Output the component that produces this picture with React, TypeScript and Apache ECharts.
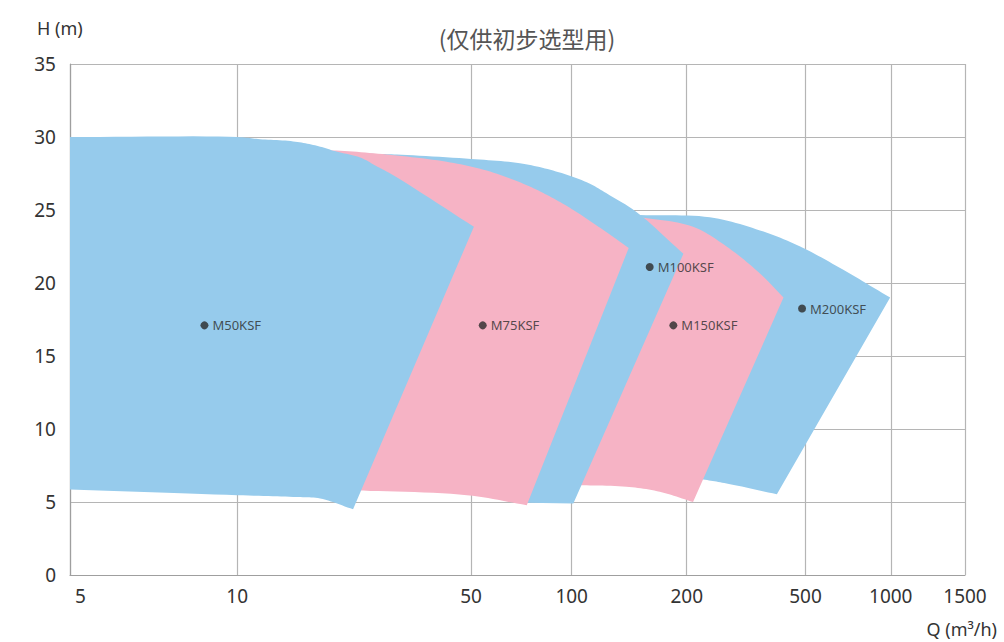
import React, { useEffect, useRef } from "react";
import * as echarts from "echarts";

// ---- axes ----
const qTicks = [5, 10, 50, 100, 200, 500, 1000, 1500];
// position of every tick along the axis, in decades, as spaced on the original drawing
const qTickPos = [0.5, 1, 1.699, 2, 2.344, 2.699, 2.954, 3.176];
const hMin = 0;
const hMax = 35;
const hStep = 5;

// ---- operating ranges (Q in m3/h, H in m): upper edge left->right, lower edge right->left ----
const m50TopQ = [5, 10, 11.7, 14.7, 17.3, 19.8, 23.3, 26.1, 29.2, 51];
const m50TopH = [30, 30, 29.85, 29.7, 29.4, 29.0, 28.6, 28.0, 27.4, 23.85];
const m50BotQ = [22.2, 17.7, 14.7, 10, 5];
const m50BotH = [4.5, 5.24, 5.35, 5.47, 5.86];

const m75TopQ = [15, 19.8, 28, 42.3, 55.7, 73.4, 88.1, 101, 121, 141];
const m75TopH = [29.1, 29.07, 28.8, 28.3, 27.7, 26.7, 25.8, 25.0, 23.63, 22.4];
const m75BotQ = [73.4, 48.6, 23.8, 17];
const m75BotH = [4.78, 5.47, 5.78, 5.9];

const m100TopQ = [25, 30, 50, 70, 88, 109.5, 126, 148, 196];
const m100TopH = [28.85, 28.8, 28.5, 28.2, 27.7, 26.9, 26.0, 24.85, 22.0];
const m100BotQ = [101, 73.4];
const m100BotH = [4.9, 4.95];

const m150TopQ = [134, 156, 210, 272, 352, 422];
const m150TopH = [24.6, 24.45, 23.85, 22.5, 20.65, 19.0];
const m150BotQ = [210, 170, 139, 105, 92.3];
const m150BotH = [5.0, 5.7, 6.05, 6.15, 6.2];

const m200TopQ = [151, 239, 352, 480, 680, 995];
const m200TopH = [24.65, 24.5, 23.6, 22.5, 20.9, 19.0];
const m200BotQ = [401, 272, 227, 181, 160];
const m200BotH = [5.53, 6.27, 6.54, 6.8, 6.9];

// ---- model markers ----
const modelNames = ["M50KSF", "M75KSF", "M100KSF", "M150KSF", "M200KSF"];
const modelQ = [8.73, 54.2, 160, 184.5, 487];
const modelH = [17.1, 17.1, 21.1, 17.1, 18.25];

const BLUE = "#96cbec";
const PINK = "#f6b3c5";
const FONT = "'Noto Sans', 'Noto Sans CJK SC', sans-serif";

function toAxis(q: number): number {
  const lq = Math.log10(q);
  for (let i = 0; i < qTicks.length - 1; i++) {
    const a = Math.log10(qTicks[i]);
    const b = Math.log10(qTicks[i + 1]);
    if (lq <= b || i === qTicks.length - 2) {
      const t = (lq - a) / (b - a);
      return qTickPos[i] + t * (qTickPos[i + 1] - qTickPos[i]);
    }
  }
  return qTickPos[0];
}

// centripetal Catmull-Rom through pixel points (smooth drawing of an edge)
function smoothRun(pts: number[][], seg = 12): number[][] {
  if (pts.length < 3) return pts.slice();
  const n = pts.length;
  const first = [2 * pts[0][0] - pts[1][0], 2 * pts[0][1] - pts[1][1]];
  const last = [2 * pts[n - 1][0] - pts[n - 2][0], 2 * pts[n - 1][1] - pts[n - 2][1]];
  const P = [first, ...pts, last];
  const dist = (a: number[], b: number[]) =>
    Math.max(Math.pow(Math.hypot(b[0] - a[0], b[1] - a[1]), 0.5), 1e-4);
  const lerp = (a: number[], b: number[], ta: number, tb: number, t: number) => {
    const u = (t - ta) / (tb - ta);
    return [a[0] + (b[0] - a[0]) * u, a[1] + (b[1] - a[1]) * u];
  };
  const out: number[][] = [];
  for (let i = 1; i < P.length - 2; i++) {
    const p0 = P[i - 1], p1 = P[i], p2 = P[i + 1], p3 = P[i + 2];
    const t0 = 0;
    const t1 = t0 + dist(p0, p1);
    const t2 = t1 + dist(p1, p2);
    const t3 = t2 + dist(p2, p3);
    for (let k = 0; k < seg; k++) {
      const t = t1 + ((t2 - t1) * k) / seg;
      const A1 = lerp(p0, p1, t0, t1, t);
      const A2 = lerp(p1, p2, t1, t2, t);
      const A3 = lerp(p2, p3, t2, t3, t);
      const B1 = lerp(A1, A2, t0, t2, t);
      const B2 = lerp(A2, A3, t1, t3, t);
      out.push(lerp(B1, B2, t1, t2, t));
    }
  }
  out.push(pts[n - 1]);
  return out;
}

function polySeries(
  name: string,
  topQ: number[],
  topH: number[],
  botQ: number[],
  botH: number[],
  color: string,
  z: number
) {
  const top = topQ.map((q, i) => [toAxis(q), topH[i]]);
  const bot = botQ.map((q, i) => [toAxis(q), botH[i]]);
  return {
    type: "custom",
    name,
    z,
    silent: true,
    data: [...top, ...bot],
    encode: { x: 0, y: 1 },
    renderItem: (params: any, api: any) => {
      if (params.dataIndex !== 0) return null;
      const tp = smoothRun(top.map((p) => api.coord(p)));
      const bp = smoothRun(bot.map((p) => api.coord(p)));
      return {
        type: "polygon",
        shape: { points: [...tp, ...bp] },
        style: { fill: color },
      };
    },
  };
}

function tickLabel(v: number): string {
  let best = 0;
  for (let i = 1; i < qTickPos.length; i++) {
    if (Math.abs(qTickPos[i] - v) < Math.abs(qTickPos[best] - v)) best = i;
  }
  return String(qTicks[best]);
}

export default function App() {
  const ref = useRef<HTMLDivElement>(null);

  useEffect(() => {
    document.body.style.margin = "0";
    if (!ref.current) return;
    const chart = echarts.init(ref.current, undefined, { renderer: "svg" });

    const option: any = {
      animation: false,
      backgroundColor: "#ffffff",
      grid: { left: 70, right: 39, top: 64, bottom: 67, containLabel: false },
      xAxis: {
        type: "value",
        min: qTickPos[0],
        max: qTickPos[qTickPos.length - 1],
        axisLine: { show: true, lineStyle: { color: "#9f9f9f", width: 1.2 } },
        axisTick: { show: false, customValues: qTickPos },
        splitLine: { show: true, lineStyle: { color: "#b5b5b5", width: 1.2 } },
        axisLabel: {
          customValues: qTickPos,
          formatter: (v: number) => {
            const s = tickLabel(v);
            return v === qTickPos[0] ? "{first|" + s + "}" : s;
          },
          fontSize: 19,
          fontFamily: FONT,
          color: "#333",
          margin: 11,
          rich: {
            first: { fontSize: 19, fontFamily: FONT, color: "#333", padding: [0, 0, 0, 21] },
          },
        },
      },
      yAxis: {
        type: "value",
        min: hMin,
        max: hMax,
        interval: hStep,
        axisLine: { show: true, lineStyle: { color: "#9f9f9f", width: 1.2 } },
        axisTick: { show: false },
        splitLine: { show: true, lineStyle: { color: "#b5b5b5", width: 1.2 } },
        axisLabel: {
          fontSize: 19,
          fontFamily: FONT,
          color: "#333",
          margin: 14,
          padding: [8, 0, 0, 0],
        },
      },
      series: [
        polySeries("M200KSF", m200TopQ, m200TopH, m200BotQ, m200BotH, BLUE, 2),
        polySeries("M150KSF", m150TopQ, m150TopH, m150BotQ, m150BotH, PINK, 3),
        polySeries("M100KSF", m100TopQ, m100TopH, m100BotQ, m100BotH, BLUE, 4),
        polySeries("M75KSF", m75TopQ, m75TopH, m75BotQ, m75BotH, PINK, 5),
        polySeries("M50KSF", m50TopQ, m50TopH, m50BotQ, m50BotH, BLUE, 6),
        {
          type: "scatter",
          z: 10,
          silent: true,
          symbol: "circle",
          symbolSize: 8,
          itemStyle: { color: "#2b2b2b" },
          data: modelNames.map((n, i) => ({ name: n, value: [toAxis(modelQ[i]), modelH[i]] })),
          label: {
            show: true,
            position: "right",
            distance: 4,
            formatter: (p: any) => p.name,
            fontSize: 13,
            fontFamily: FONT,
            color: "#2b2b2b",
          },
        },
      ],
      graphic: [
        {
          type: "text",
          left: 37,
          top: 19,
          style: { text: "H (m)", fontSize: 18, fontFamily: FONT, fill: "#333" },
        },
        {
          type: "text",
          x: 527,
          y: 38,
          style: {
            text: "(仅供初步选型用)",
            fontSize: 23,
            fontFamily: "'Noto Sans CJK SC', sans-serif",
            fill: "#555",
            align: "center",
            verticalAlign: "middle",
          },
        },
        {
          type: "text",
          x: 997,
          y: 629,
          style: {
            text: "Q (m³/h)",
            fontSize: 18,
            fontFamily: FONT,
            fill: "#333",
            align: "right",
            verticalAlign: "middle",
          },
        },
      ],
    };

    chart.setOption(option);
    return () => chart.dispose();
  }, []);

  return <div ref={ref} style={{ width: 1004, height: 642 }} />;
}
